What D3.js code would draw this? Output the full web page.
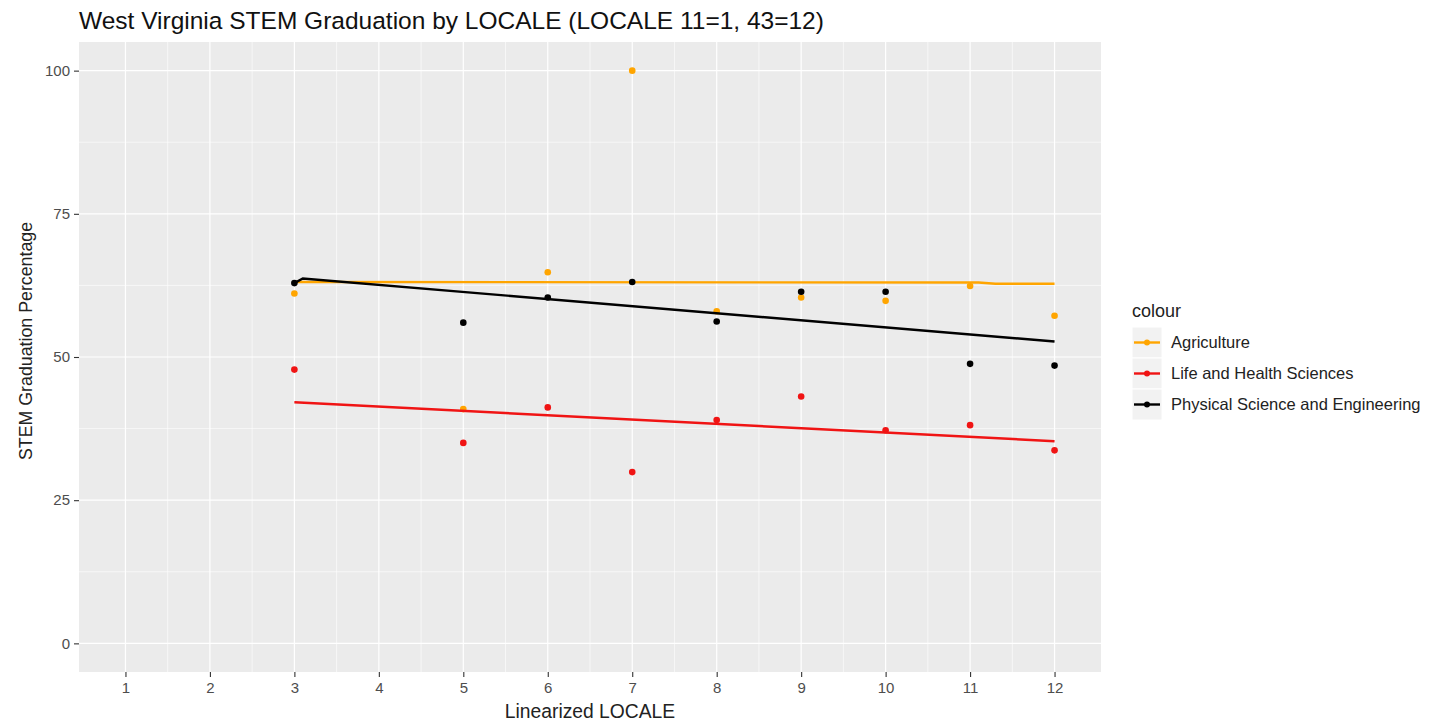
<!DOCTYPE html>
<html>
<head>
<meta charset="utf-8">
<script src="https://cdn.jsdelivr.net/npm/d3@7"></script>
<style>
  body { margin: 0; background: #fff; }
  svg { display: block; font-family: "Liberation Sans", Arial, sans-serif; }
</style>
</head>
<body>
<div id="chart"></div>
<script>
// values
var locales = [3, 5, 6, 7, 8, 9, 10, 11, 12];
var agriculture = [61.1, 40.9, 64.8, 100, 58.0, 60.4, 59.8, 62.4, 57.2];
var lifeHealth = [47.8, 35.0, 41.2, 29.9, 39.0, 43.1, 37.2, 38.1, 33.7];
var physSci = [62.9, 56.0, 60.4, 63.1, 56.2, 61.4, 61.4, 48.8, 48.5];

// fitted lines as drawn in the picture
var agricultureTrend = [[3, 63.1], [11.1, 63.0], [11.3, 62.8], [12, 62.8]];
var lifeHealthTrend = [[3, 42.1], [12, 35.3]];
var physSciTrend = [[3, 62.9], [3.1, 63.7], [12, 52.7]];

var xTicks = [1, 2, 3, 4, 5, 6, 7, 8, 9, 10, 11, 12];
var yTicks = [0, 25, 50, 75, 100];
var seriesNames = ["Agriculture", "Life and Health Sciences", "Physical Science and Engineering"];

var width = 1432, height = 724;
var margin = {left: 79, right: 1101, top: 42, bottom: 672};

var svg = d3.select("#chart")
  .append("svg")
  .attr("width", width)
  .attr("height", height);

var x = d3.scaleLinear().domain([0.45, 12.55]).range([margin.left, margin.right]);
var y = d3.scaleLinear().domain([-5, 105]).range([margin.bottom, margin.top]);

var color = d3.scaleOrdinal()
  .domain(seriesNames)
  .range(["#FFA500", "#F01414", "#000000"]);

// panel
svg.append("rect")
  .attr("x", margin.left).attr("y", margin.top)
  .attr("width", margin.right - margin.left)
  .attr("height", margin.bottom - margin.top)
  .attr("fill", "#EBEBEB");

// minor grid
var xMinor = xTicks.slice(0, -1).map(function(d){ return d + 0.5 });
var yMinor = [12.5, 37.5, 62.5, 87.5];
var grid = svg.append("g");
grid.selectAll(".xminor").data(xMinor).enter().append("line")
  .attr("x1", function(d){ return x(d) }).attr("x2", function(d){ return x(d) })
  .attr("y1", margin.top).attr("y2", margin.bottom)
  .attr("stroke", "#fff").attr("stroke-width", 0.6);
grid.selectAll(".yminor").data(yMinor).enter().append("line")
  .attr("y1", function(d){ return y(d) }).attr("y2", function(d){ return y(d) })
  .attr("x1", margin.left).attr("x2", margin.right)
  .attr("stroke", "#fff").attr("stroke-width", 0.6);
// major grid
grid.selectAll(".xmajor").data(xTicks).enter().append("line")
  .attr("x1", function(d){ return x(d) }).attr("x2", function(d){ return x(d) })
  .attr("y1", margin.top).attr("y2", margin.bottom)
  .attr("stroke", "#fff").attr("stroke-width", 1.2);
grid.selectAll(".ymajor").data(yTicks).enter().append("line")
  .attr("y1", function(d){ return y(d) }).attr("y2", function(d){ return y(d) })
  .attr("x1", margin.left).attr("x2", margin.right)
  .attr("stroke", "#fff").attr("stroke-width", 1.2);

// axes
var xAxis = svg.append("g")
  .attr("transform", "translate(0," + margin.bottom + ")")
  .call(d3.axisBottom(x).tickValues(xTicks).tickSize(5).tickPadding(5));
var yAxis = svg.append("g")
  .attr("transform", "translate(" + margin.left + ",0)")
  .call(d3.axisLeft(y).tickValues(yTicks).tickSize(5).tickPadding(4));
[xAxis, yAxis].forEach(function(a){
  a.select(".domain").remove();
  a.selectAll(".tick line").attr("stroke", "#333").attr("stroke-width", 1.1);
  a.selectAll(".tick text")
    .attr("fill", "#4D4D4D")
    .style("font-size", "15px")
    .style("font-family", '"Liberation Sans", Arial, sans-serif');
});

// series
var series = [
  {name: seriesNames[0], values: agriculture, trend: agricultureTrend},
  {name: seriesNames[1], values: lifeHealth, trend: lifeHealthTrend},
  {name: seriesNames[2], values: physSci, trend: physSciTrend}
];

var line = d3.line()
  .x(function(d){ return x(d[0]) })
  .y(function(d){ return y(d[1]) });

series.forEach(function(s){
  var g = svg.append("g");
  g.selectAll("circle")
    .data(locales.map(function(l, i){ return [l, s.values[i]] }))
    .enter()
    .append("circle")
      .attr("cx", function(d){ return x(d[0]) })
      .attr("cy", function(d){ return y(d[1]) })
      .attr("r", 3.3)
      .attr("fill", color(s.name));
  g.append("path")
    .datum(s.trend)
    .attr("d", line)
    .attr("fill", "none")
    .attr("stroke", color(s.name))
    .attr("stroke-width", 2.4);
});

// titles
svg.append("text")
  .attr("x", margin.left)
  .attr("y", 29)
  .style("font-size", "24.5px")
  .attr("fill", "#111")
  .text("West Virginia STEM Graduation by LOCALE (LOCALE 11=1, 43=12)");

svg.append("text")
  .attr("x", (margin.left + margin.right) / 2)
  .attr("y", 718)
  .attr("text-anchor", "middle")
  .style("font-size", "19.3px")
  .attr("fill", "#222")
  .text("Linearized LOCALE");

svg.append("text")
  .attr("transform", "translate(32,341) rotate(-90)")
  .attr("text-anchor", "middle")
  .style("font-size", "17.8px")
  .attr("fill", "#222")
  .text("STEM Graduation Percentage");

// legend
var legend = svg.append("g").attr("transform", "translate(1132,0)");
legend.append("text")
  .attr("x", 0).attr("y", 317)
  .style("font-size", "18px")
  .attr("fill", "#222")
  .text("colour");

var keys = legend.selectAll(".key")
  .data(seriesNames)
  .enter()
  .append("g")
  .attr("transform", function(d, i){ return "translate(0," + (327 + i * 31) + ")" });
keys.append("rect")
  .attr("width", 30).attr("height", 31)
  .attr("fill", "#F2F2F2")
  .attr("stroke", "#fff").attr("stroke-width", 1);
keys.append("line")
  .attr("x1", 2).attr("x2", 28)
  .attr("y1", 15.5).attr("y2", 15.5)
  .attr("stroke", function(d){ return color(d) })
  .attr("stroke-width", 2.4);
keys.append("circle")
  .attr("cx", 15).attr("cy", 15.5).attr("r", 3)
  .attr("fill", function(d){ return color(d) });
keys.append("text")
  .attr("x", 39).attr("y", 21)
  .style("font-size", "16.5px")
  .attr("fill", "#222")
  .text(function(d){ return d });
</script>
</body>
</html>
